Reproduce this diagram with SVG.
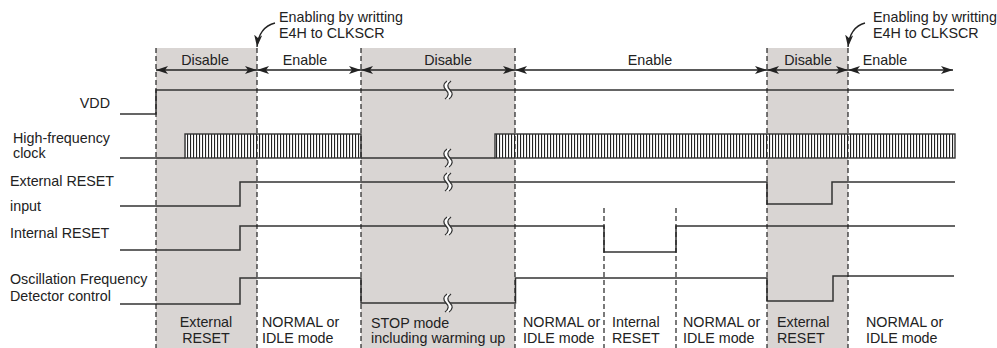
<svg xmlns="http://www.w3.org/2000/svg" width="997" height="348" viewBox="0 0 997 348">
<style>
text{font-family:"Liberation Sans",Arial,sans-serif;font-size:14.3px;fill:#222}
.shade{fill:#d9d5d3}
.sig{fill:none;stroke:#333;stroke-width:1.5}
.dash{fill:none;stroke:#222;stroke-width:1.2;stroke-dasharray:5,3}
.arr{fill:none;stroke:#222;stroke-width:1.3;marker-start:url(#ah);marker-end:url(#ah)}
.ann{fill:none;stroke:#222;stroke-width:1.3;marker-end:url(#ah)}
.brkfill{fill:#fff;stroke:none}
.brkline{fill:none;stroke:#333;stroke-width:1.3}
.clk{fill:url(#hatch);stroke:#333;stroke-width:1.4}
.mid{text-anchor:middle}
</style>
<defs>
<marker id="ah" viewBox="0 0 12 8" refX="12" refY="4" markerWidth="12" markerHeight="8" markerUnits="userSpaceOnUse" orient="auto-start-reverse">
<path d="M0,0 L12,4 L0,8 L3,4 z" fill="#222"/>
</marker>
<pattern id="hatch" x="0" y="0" width="3" height="10" patternUnits="userSpaceOnUse">
<rect width="3" height="10" fill="#fff"/>
<rect x="1" width="1.1" height="10" fill="#222"/>
</pattern>
<g id="brk">
<path class="brkfill" d="M0,-9 C-4,-6 -4,-3 -1,0 C2,3 2,6 -2,9 L2,9 C6,6 6,3 3,0 C0,-3 0,-6 4,-9 Z"/>
<path class="brkline" d="M0,-9 C-4,-6 -4,-3 -1,0 C2,3 2,6 -2,9 M4,-9 C0,-6 0,-3 3,0 C6,3 6,6 2,9"/>
</g>
</defs>
<g id="shading">
<rect class="shade" x="156" y="48" width="101" height="300"/>
<rect class="shade" x="361" y="48" width="154" height="300"/>
<rect class="shade" x="767" y="48" width="81" height="300"/>
</g>
<g id="labels-left">
<text x="110" y="108" text-anchor="end">VDD</text>
<text x="13" y="143">High-frequency</text>
<text x="13" y="158">clock</text>
<text x="10" y="186">External RESET</text>
<text x="10" y="211">input</text>
<text x="10" y="238">Internal RESET</text>
<text x="10" y="284">Oscillation Frequency</text>
<text x="10" y="301">Detector control</text>
</g>
<g id="signals">
<path class="sig" d="M120,114 H156 V90 H954"/>
<path class="sig" d="M120,158 H185"/>
<rect class="clk" x="185" y="134" width="176" height="24"/>
<path class="sig" d="M361,158 H495"/>
<rect class="clk" x="495" y="134" width="460" height="24"/>
<path class="sig" d="M120,206 H240 V182 H767 V204 H832 V182 H955"/>
<path class="sig" d="M120,250 H240 V226 H604 V252 H676 V226 H955"/>
<path class="sig" d="M120,304 H240 V278 H361 V303 H515.5 V278 H767 V301 H833 V276 H954"/>
</g>
<g id="breaks">
<use href="#brk" x="447" y="90"/>
<use href="#brk" x="447" y="158"/>
<use href="#brk" x="447" y="182"/>
<use href="#brk" x="447" y="226"/>
<use href="#brk" x="447" y="303"/>
</g>
<g id="connectors">
<path class="dash" d="M156,48 V348 M257,48 V348 M361,48 V348 M515,48 V348 M767,48 V348 M848,48 V348 M604,208 V348 M676,208 V348"/>
<path class="arr" d="M156,70 H257"/>
<path class="arr" d="M257,70 H361"/>
<path class="arr" d="M361,70 H515"/>
<path class="arr" d="M515,70 H767"/>
<path class="arr" d="M767,70 H848"/>
<path class="arr" d="M848,70 H953"/>
<path class="ann" d="M275,23 Q259,27 257,47"/>
<path class="ann" d="M865,23 Q850,27 848,47"/>
</g>
<g id="labels-top">
<text class="mid" x="205" y="65">Disable</text>
<text class="mid" x="305" y="65">Enable</text>
<text class="mid" x="448" y="65">Disable</text>
<text class="mid" x="650" y="65">Enable</text>
<text class="mid" x="808" y="65">Disable</text>
<text class="mid" x="885" y="65">Enable</text>
<text x="279" y="22">Enabling by writting</text>
<text x="279" y="38">E4H to CLKSCR</text>
<text x="873" y="22">Enabling by writting</text>
<text x="873" y="38">E4H to CLKSCR</text>
</g>
<g id="labels-bottom">
<text class="mid" x="206" y="327">External</text>
<text class="mid" x="206" y="343">RESET</text>
<text x="262" y="327">NORMAL or</text>
<text x="262" y="343">IDLE mode</text>
<text x="371" y="328">STOP mode</text>
<text x="371" y="343">including warming up</text>
<text x="523" y="327">NORMAL or</text>
<text x="523" y="343">IDLE mode</text>
<text x="612" y="327">Internal</text>
<text x="612" y="343">RESET</text>
<text x="683" y="327">NORMAL or</text>
<text x="683" y="343">IDLE mode</text>
<text x="777" y="327">External</text>
<text x="777" y="343">RESET</text>
<text x="866" y="327">NORMAL or</text>
<text x="866" y="343">IDLE mode</text>
</g>
</svg>
